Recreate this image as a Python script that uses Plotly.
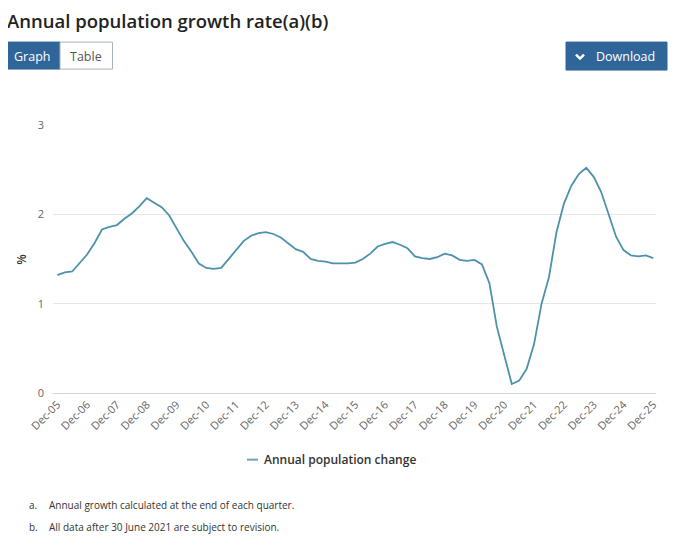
import plotly.graph_objects as go

# quarterly categories Dec-05 .. Dec-25
years = list(range(2005, 2026))
months = ["Mar", "Jun", "Sep", "Dec"]
quarters = ["Dec-05"] + [f"{m}-{str(y)[2:]}" for y in years[1:] for m in months]

tick_labels = ["Dec-05", "Dec-06", "Dec-07", "Dec-08", "Dec-09", "Dec-10", "Dec-11",
               "Dec-12", "Dec-13", "Dec-14", "Dec-15", "Dec-16", "Dec-17", "Dec-18",
               "Dec-19", "Dec-20", "Dec-21", "Dec-22", "Dec-23", "Dec-24", "Dec-25"]

growth = [1.32, 1.35, 1.36, 1.46, 1.55, 1.68, 1.83, 1.86, 1.88, 1.95, 2.01, 2.09,
          2.18, 2.13, 2.08, 1.99, 1.84, 1.70, 1.58, 1.45, 1.40, 1.39, 1.40, 1.50,
          1.60, 1.70, 1.76, 1.79, 1.80, 1.78, 1.74, 1.68, 1.61, 1.58, 1.50, 1.48,
          1.47, 1.45, 1.45, 1.45, 1.46, 1.50, 1.56, 1.64, 1.67, 1.69, 1.66, 1.62,
          1.53, 1.51, 1.50, 1.52, 1.56, 1.54, 1.49, 1.48, 1.49, 1.44, 1.23, 0.74,
          0.42, 0.10, 0.14, 0.27, 0.55, 1.00, 1.30, 1.80, 2.12, 2.32, 2.45, 2.52,
          2.42, 2.25, 2.00, 1.75, 1.60, 1.54, 1.53, 1.54, 1.51]

series_name = "Annual population change"
title = "Annual population growth rate(a)(b)"
footnotes = [("a.", "Annual growth calculated at the end of each quarter."),
             ("b.", "All data after 30 June 2021 are subject to revision.")]

# page is drawn with an 8px body margin, so work in page pixels and shift
OFF = 8
W, H = 680 - OFF, 545 - OFF
L, R, T, B = 53 - OFF, 656 - OFF, 125 - OFF, 393.3 - OFF
FONT = "Open Sans"
BLUE = "#30659a"
LINE = "#4d91ac"


def px(x):
    return (x - OFF - L) / (R - L)


def py(y):
    return (B - (y - OFF)) / (B - T)


def note(text, x, y, anchor="left", **font):
    f = dict(family=FONT, size=10, color="#333")
    f.update(font)
    return dict(text=text, xref="paper", yref="paper", x=px(x), y=py(y),
                xanchor=anchor, yanchor="middle", showarrow=False, font=f)


fig = go.Figure()
fig.add_trace(go.Scatter(x=quarters, y=growth, mode="lines", name=series_name,
                         line=dict(color=LINE, width=1.8), showlegend=False))

shapes = []
# buttons
shapes.append(dict(type="rect", xref="paper", yref="paper", x0=px(4), x1=px(60), y0=py(69), y1=py(42),
                   fillcolor=BLUE, line=dict(color=BLUE, width=1)))
shapes.append(dict(type="rect", xref="paper", yref="paper", x0=px(60), x1=px(112.5), y0=py(69), y1=py(42),
                   fillcolor="white", line=dict(color="#a9b3bd", width=1)))
shapes.append(dict(type="rect", xref="paper", yref="paper", x0=px(566), x1=px(667), y0=py(70), y1=py(42),
                   fillcolor=BLUE, line=dict(color=BLUE, width=1)))
shapes.append(dict(type="path", xref="paper", yref="paper",
                   path=f"M {px(576)},{py(54.5)} L {px(580)},{py(58.5)} L {px(584)},{py(54.5)}",
                   line=dict(color="white", width=2.5)))
# page border on right
shapes.append(dict(type="line", xref="paper", yref="paper", x0=px(676), x1=px(676), y0=py(8), y1=py(545),
                   line=dict(color="#e8e8e8", width=3)))
# legend symbol
shapes.append(dict(type="line", xref="paper", yref="paper", x0=px(247), x1=px(258), y0=py(460), y1=py(460),
                   line=dict(color="#6aa6b0", width=2)))

annos = [
    note(title, 5, 20, size=18.5, color="#222", weight=600),
    note("Graph", 32, 56, "center", size=12.5, color="white"),
    note("Table", 86, 56, "center", size=12.5, color="#555"),
    note("Download", 625, 56, "center", size=12.5, color="white"),
    note(series_name, 262, 460, size=12, weight=600),
]
annos.append(dict(text="%", xref="paper", yref="paper", x=px(22), y=py(260), xanchor="center",
                  yanchor="middle", showarrow=False, textangle=-90,
                  font=dict(family=FONT, size=12, color="#333", weight=600)))
for i, (lab, txt) in enumerate(footnotes):
    yy = 505 + 22 * i
    annos.append(note(lab, 27, yy))
    annos.append(note(txt, 47, yy))

fig.update_layout(
    width=W, height=H,
    margin=dict(l=L, r=W - R, t=T, b=H - B, autoexpand=False),
    paper_bgcolor="white", plot_bgcolor="white",
    font=dict(family=FONT, color="#666"),
    shapes=shapes, annotations=annos,
    xaxis=dict(range=[-0.58, 80.36], tickmode="array", tickvals=tick_labels, ticktext=tick_labels,
               tickangle=-45, tickfont=dict(size=11, color="#666"), showgrid=False,
               showline=True, linecolor="#ccd6eb", linewidth=1, ticks="", automargin=False),
    yaxis=dict(range=[0, 3], tickvals=[0, 1, 2, 3], showgrid=True, gridcolor="#e6e6e6",
               zeroline=False, tickfont=dict(size=11, color="#666"), ticklabelstandoff=8,
               automargin=False),
)

fig.write_html("out.html")
